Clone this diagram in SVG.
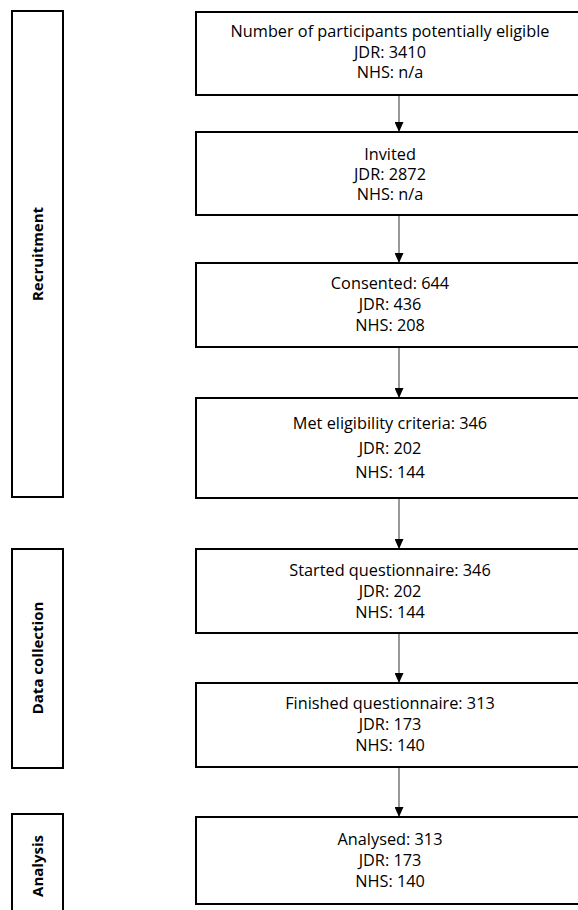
<svg xmlns="http://www.w3.org/2000/svg" width="578" height="910" viewBox="0 0 578 910">
<defs>
<style>
.box{fill:#fff;stroke:#000;stroke-width:2}
.t{font-family:"Open Sans",Lato,sans-serif;font-size:16.3px;fill:#000;text-anchor:middle}
.s{font-family:"Open Sans",Lato,sans-serif;font-size:15px;font-weight:bold;fill:#000;text-anchor:middle}
.c{stroke:#333;stroke-width:1;fill:none}
</style>
<marker id="ah" viewBox="0 0 10 9" refX="10" refY="4.5" markerWidth="10" markerHeight="9" markerUnits="userSpaceOnUse" orient="auto">
<path d="M0,0 L10,4.5 L0,9 Z" fill="#000"/>
</marker>
</defs>
<rect width="578" height="910" fill="#fff"/>
<g id="stage-recruitment">
<rect class="box" x="12" y="11" width="51" height="486"/>
<text class="s" transform="translate(43,254) rotate(-90)">Recruitment</text>
</g>
<g id="stage-data">
<rect class="box" x="12" y="549" width="51" height="219"/>
<text class="s" transform="translate(43,658) rotate(-90)">Data collection</text>
</g>
<g id="stage-analysis">
<rect class="box" x="12" y="814" width="51" height="110"/>
<text class="s" transform="translate(43,866) rotate(-90)">Analysis</text>
</g>
<g id="connectors">
<line class="c" x1="399" y1="95" x2="399" y2="132" marker-end="url(#ah)"/>
<line class="c" x1="399" y1="215" x2="399" y2="263" marker-end="url(#ah)"/>
<line class="c" x1="399" y1="347" x2="399" y2="398" marker-end="url(#ah)"/>
<line class="c" x1="399" y1="498" x2="399" y2="549" marker-end="url(#ah)"/>
<line class="c" x1="399" y1="633" x2="399" y2="683" marker-end="url(#ah)"/>
<line class="c" x1="399" y1="767" x2="399" y2="817" marker-end="url(#ah)"/>
</g>
<g id="n1">
<rect class="box" x="196" y="12" width="390" height="83"/>
<text class="t" x="390" y="37">Number of participants potentially eligible</text>
<text class="t" x="390" y="58">JDR: 3410</text>
<text class="t" x="390" y="78">NHS: n/a</text>
</g>
<g id="n2">
<rect class="box" x="196" y="132" width="390" height="83"/>
<text class="t" x="390" y="160">Invited</text>
<text class="t" x="390" y="180">JDR: 2872</text>
<text class="t" x="390" y="200">NHS: n/a</text>
</g>
<g id="n3">
<rect class="box" x="196" y="263" width="390" height="84"/>
<text class="t" x="390" y="289">Consented: 644</text>
<text class="t" x="390" y="310">JDR: 436</text>
<text class="t" x="390" y="331">NHS: 208</text>
</g>
<g id="n4">
<rect class="box" x="196" y="398" width="390" height="100"/>
<text class="t" x="390" y="429">Met eligibility criteria: 346</text>
<text class="t" x="390" y="454">JDR: 202</text>
<text class="t" x="390" y="478">NHS: 144</text>
</g>
<g id="n5">
<rect class="box" x="196" y="549" width="390" height="84"/>
<text class="t" x="390" y="576">Started questionnaire: 346</text>
<text class="t" x="390" y="597">JDR: 202</text>
<text class="t" x="390" y="618">NHS: 144</text>
</g>
<g id="n6">
<rect class="box" x="196" y="683" width="390" height="84"/>
<text class="t" x="390" y="709">Finished questionnaire: 313</text>
<text class="t" x="390" y="730">JDR: 173</text>
<text class="t" x="390" y="751">NHS: 140</text>
</g>
<g id="n7">
<rect class="box" x="196" y="817" width="390" height="87"/>
<text class="t" x="390" y="845">Analysed: 313</text>
<text class="t" x="390" y="866">JDR: 173</text>
<text class="t" x="390" y="887">NHS: 140</text>
</g>
</svg>
